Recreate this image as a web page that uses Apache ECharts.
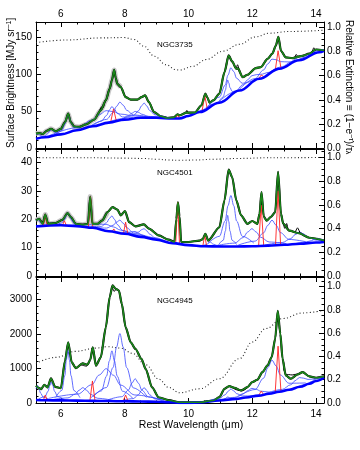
<!DOCTYPE html>
<html><head><meta charset="utf-8">
<script src="https://cdn.jsdelivr.net/npm/echarts@6/dist/echarts.min.js"></script>
<style>html,body{margin:0;padding:0;background:#fff}#c{width:360px;height:450px}</style>
</head><body><div id="c"></div>
<script>
// ---------------- DATA ----------------
const xTicks = [6, 8, 10, 12, 14];
const xRange = [5.22, 14.25];
const galaxyNames = ['NGC3735', 'NGC4501', 'NGC4945'];
const leftTicks = [[0, 50, 100, 150], [0, 10, 20, 30, 40], [0, 1000, 2000, 3000]];
const rightTicks = [0.0, 0.2, 0.4, 0.6, 0.8, 1.0];

// ---- NGC3735 ----
const ngc3735Total = [[5.22,19.5],[5.32,20.2],[5.43,19],[5.57,23.5],[5.69,26],[5.84,22.6],[6.0,26],[6.13,35],[6.23,46.6],[6.31,35],[6.42,29],[6.57,28.6],[6.78,32],[7.04,38.5],[7.25,51],[7.41,64.6],[7.53,80.5],[7.6,92],[7.67,106],[7.72,95],[7.77,87],[7.88,82.6],[8.03,69],[8.19,65.6],[8.4,65.6],[8.53,69],[8.64,71.4],[8.76,62.3],[8.92,48.8],[9.13,43],[9.34,40.7],[9.55,41.6],[9.66,45.7],[9.72,44.3],[9.94,48],[10.2,48],[10.41,58],[10.53,73.7],[10.6,68],[10.66,61.5],[10.78,64.6],[10.97,73.7],[11.13,103],[11.26,125.6],[11.37,117.5],[11.5,107.6],[11.55,108],[11.7,96],[11.85,99.4],[12.11,108.4],[12.27,109.8],[12.48,121],[12.63,128],[12.74,139],[12.82,151],[12.9,132],[13.05,123],[13.26,122],[13.53,124.7],[13.79,128],[14.0,133.7],[14.25,132.3]];
const ngc3735Data = [[[7.2,50],[7.28,56],[7.33,55],[7.38,64],[7.44,67],[7.5,79]],[[9.9,46],[9.95,51],[10.0,47]],[[11.49,108],[11.54,113],[11.6,104]],[[13.33,123],[13.38,127],[13.43,123.5]],[[13.88,131],[13.93,136],[13.98,132]]];
const ngc3735Cont = [[5.22,12.5],[5.5,14.5],[6.0,18.5],[6.5,24],[7.0,29.5],[7.5,34.5],[8.0,38.5],[8.5,41],[9.0,41],[9.5,40],[9.72,40],[10.0,43.5],[10.35,48.8],[10.97,61.5],[11.6,78],[12.22,94],[12.85,107.6],[13.47,119],[14.1,130],[14.25,132]];
const ngc3735Ext = [[5.22,0.874],[6.2,0.896],[7.25,0.913],[7.97,0.916],[8.3,0.9],[8.6,0.845],[8.93,0.761],[9.3,0.69],[9.6,0.65],[9.72,0.646],[10.14,0.677],[10.56,0.734],[11.08,0.803],[11.6,0.86],[12.1,0.921],[12.53,0.952],[13.16,0.966],[14.25,0.977]];
const ngc3735Pah = [
 [[5.22,17.7],[5.27,19.4],[5.31,18.6],[5.36,16.8],[5.45,15.4],[5.63,15.9]],
 [[5.3,13.6],[5.5,16.3],[5.6,19.8],[5.65,22.9],[5.7,25.1],[5.75,23.7],[5.8,21.4],[5.9,19.5],[6.1,20.1]],
 [[5.84,18.7],[6.03,23.7],[6.125,32],[6.17,39.8],[6.22,45.2],[6.27,40.9],[6.315,34],[6.41,27.9],[6.6,26.6]],
 [[5.62,16.5],[6.52,27.6],[6.97,37.7],[7.2,45.1],[7.42,50.7],[7.65,49.3],[7.87,46],[8.32,43.4],[9.22,41.6]],
 [[6.94,30.2],[7.27,36.4],[7.435,44.3],[7.52,51.5],[7.6,56.3],[7.68,52.7],[7.765,47.1],[7.93,42.1],[8.26,41.1]],
 [[7.01,31.1],[7.43,38.8],[7.64,48.1],[7.745,56.5],[7.85,62.3],[7.955,58.1],[8.06,51.3],[8.27,44.9],[8.69,42.5]],
 [[7.49,35],[7.91,39.7],[8.12,43.9],[8.225,47.2],[8.33,49.7],[8.435,48.3],[8.54,45.8],[8.75,42.9],[9.17,41.3]],
 [[7.93,39.1],[8.27,43.9],[8.44,50.7],[8.525,57],[8.61,61],[8.695,57],[8.78,51],[8.95,45],[9.29,41.6]],
 [[10.26,47.6],[10.47,52],[10.575,55.3],[10.68,59.1],[10.785,59.5],[10.89,60.6],[11.1,65.1]],
 [[10.95,62.5],[11.09,69.4],[11.16,78.5],[11.195,86.6],[11.23,92.3],[11.265,88.4],[11.3,82.1],[11.37,76.8],[11.51,77]],
 [[10.61,56],[10.97,69.1],[11.15,85.2],[11.24,99],[11.33,108.9],[11.42,103.7],[11.51,94.6],[11.69,87.9],[12.05,91.9]],
 [[10.91,60.9],[11.45,76.1],[11.72,86.1],[11.855,92.6],[11.99,98.1],[12.125,99.5],[12.26,99.9],[12.53,102.7],[13.07,112.3]],
 [[11.56,78.1],[12.09,94.2],[12.355,105.9],[12.49,114.2],[12.62,120.6],[12.75,119.8],[12.885,117.2],[13.15,116.8],[13.68,123.8]],
 [[12.4,98.2],[12.94,110.3],[13.21,116.7],[13.345,120.7],[13.48,124.2],[13.615,125.6],[13.75,126.4],[14.02,129.6],[14.25,132.4]],
 [[13.34,116.8],[13.69,123.7],[13.865,128],[13.95,130.6],[14.04,133],[14.13,133.6],[14.25,133]]
];
const ngc3735Lines = [
 [[7.56,35],[7.65,53],[7.74,36.4]],
 [[9.6,40],[9.66,45],[9.72,40]],
 [[10.43,50.5],[10.51,71.4],[10.59,53.2]],
 [[12.2,93.6],[12.28,99],[12.36,97]],
 [[12.72,104.8],[12.81,132],[12.9,108.5]]
];

// ---- NGC4501 ----
const ngc4501Total = [[5.22,19.6],[5.32,20.2],[5.43,18.4],[5.51,21.7],[5.6,18.4],[5.84,18.7],[6.05,19.8],[6.21,22.2],[6.31,20.8],[6.47,18.4],[6.68,18.1],[6.85,18.4],[6.92,28],[6.99,18.4],[7.15,18.4],[7.3,19.6],[7.46,22.5],[7.62,24.3],[7.77,23.4],[7.88,21.4],[8.01,22.9],[8.14,19],[8.34,17.5],[8.6,18.2],[8.76,16.7],[9.07,14.3],[9.38,12.8],[9.56,12],[9.62,20],[9.67,26],[9.72,21],[9.77,12],[10.0,12],[10.35,12.5],[10.45,13],[10.53,14.9],[10.62,12.5],[10.97,17.2],[11.13,26.7],[11.26,37.5],[11.37,34.9],[11.5,26.7],[11.65,21.4],[11.85,18.4],[12.0,19.4],[12.16,18.4],[12.23,22],[12.29,29.6],[12.36,21],[12.45,19.5],[12.58,20.8],[12.72,22.5],[12.81,36.7],[12.9,22],[12.97,18.5],[13.16,16],[13.47,15.1],[13.79,13.5],[14.25,12.5]];
const ngc4501Data = [[[12.96,19],[13.02,16.8],[13.08,18.5],[13.12,16.5]],[[13.35,15.5],[13.42,17],[13.5,15.2]]];
const ngc4501Cont = [[5.22,17.5],[6.0,17.9],[6.5,17.6],[7.0,17.0],[7.5,15.8],[8.0,14.9],[8.5,13.8],[9.0,12.8],[9.5,11.6],[10.0,10.9],[10.5,10.5],[11.0,10.4],[11.5,10.4],[12.0,10.5],[12.5,10.7],[13.0,11.0],[13.5,11.4],[14.0,11.8],[14.25,12.0]];
const ngc4501Ext = [[5.22,0.997],[7.0,0.996],[8.0,0.993],[8.6,0.99],[9.0,0.984],[9.4,0.977],[9.72,0.975],[10.2,0.977],[10.8,0.984],[11.5,0.99],[12.5,0.996],[14.25,0.999]];
const ngc4501Pah = [
 [[5.22,19.5],[5.27,20],[5.31,19.6],[5.36,18.8],[5.45,18],[5.63,17.8]],
 [[5.3,17.6],[5.5,17.9],[5.6,18.2],[5.7,18.7],[5.8,18.3],[5.9,18],[6.1,17.9]],
 [[5.84,17.9],[6.03,18.7],[6.125,20.1],[6.17,21.4],[6.22,22.3],[6.27,21.4],[6.315,20],[6.41,18.6],[6.6,17.7]],
 [[5.62,17.8],[6.52,18],[6.97,18.1],[7.2,18.3],[7.42,18.2],[7.65,17.3],[7.87,16.2],[8.32,14.6],[9.22,12.4]],
 [[6.94,17.4],[7.27,17.5],[7.435,18.8],[7.52,20.3],[7.6,21.2],[7.68,20],[7.765,18.2],[7.93,16.1],[8.26,14.6]],
 [[7.01,17.2],[7.43,16.9],[7.64,17.9],[7.745,19],[7.85,19.7],[7.955,18.6],[8.06,17.1],[8.27,15.2],[8.69,13.7]],
 [[7.49,15.9],[7.91,15.4],[8.12,15.4],[8.225,15.6],[8.33,15.7],[8.435,15.1],[8.54,14.5],[8.75,13.6],[9.17,12.5]],
 [[7.93,15.2],[8.27,14.9],[8.44,15.5],[8.525,16.3],[8.61,16.7],[8.695,15.9],[8.78,14.8],[8.95,13.5],[9.29,12.2]],
 [[10.26,10.8],[10.47,10.8],[10.575,11.2],[10.68,12],[10.785,11.2],[10.89,10.8],[11.1,10.5]],
 [[10.95,11.1],[11.09,12.6],[11.16,15.9],[11.195,19.2],[11.23,21.4],[11.265,19.2],[11.3,15.9],[11.37,12.6],[11.51,11.1]],
 [[10.61,11.5],[10.97,14],[11.15,19.4],[11.24,24.8],[11.33,28.4],[11.42,24.8],[11.51,19.4],[11.69,14],[12.05,11.6]],
 [[10.91,10.8],[11.45,11.6],[11.72,13.6],[11.855,15.5],[11.99,16.7],[12.125,15.5],[12.26,13.7],[12.53,12],[13.07,11.4]],
 [[11.56,10.9],[12.09,12.3],[12.355,15.2],[12.49,17.9],[12.62,19.7],[12.75,17.9],[12.885,15.3],[13.15,12.9],[13.68,12.1]],
 [[12.4,10.9],[12.94,11.8],[13.21,13.2],[13.345,14.6],[13.48,15.5],[13.615,14.8],[13.75,13.6],[14.02,12.6],[14.25,12.3]],
 [[13.34,11.4],[13.69,12],[13.865,12.5],[13.95,12.9],[14.04,13.3],[14.13,13],[14.25,12.6]]
];
const ngc4501Lines = [
 [[5.45,17.6],[5.51,21.7],[5.57,17.7]],
 [[6.05,17.9],[6.11,19.5],[6.17,17.9]],
 [[6.86,17.1],[6.93,28],[7.0,17]],
 [[7.6,15.6],[7.66,16.6],[7.72,15.5]],
 [[7.96,14.9],[8.03,19],[8.1,14.8]],
 [[9.6,11.4],[9.66,26],[9.72,11.2]],
 [[10.45,10.5],[10.51,14.5],[10.57,10.5]],
 [[12.2,10.6],[12.28,25],[12.36,10.6]],
 [[12.73,10.9],[12.81,30],[12.89,10.9]]
];

// ---- NGC4945 ----
const ngc4945Total = [[5.22,500],[5.3,440],[5.38,403],[5.48,530],[5.58,452],[5.69,713],[5.82,470],[6.0,432],[6.13,1228],[6.23,1762],[6.34,1180],[6.47,1014],[6.68,1150],[6.83,1112],[6.92,1250],[7.0,1617],[7.1,1083],[7.25,1325],[7.41,2200],[7.53,3073],[7.62,3414],[7.72,3316],[7.82,3268],[7.91,2878],[8.03,2200],[8.19,1762],[8.34,1568],[8.53,1276],[8.66,985],[8.86,452],[9.07,160],[9.38,82],[9.72,20],[10.35,20],[10.78,73],[10.97,170],[11.13,413],[11.28,490],[11.44,443],[11.65,364],[11.85,461],[12.0,606],[12.16,675],[12.32,897],[12.48,1092],[12.61,1334],[12.72,1870],[12.8,2675],[12.88,2016],[12.95,1288],[13.05,801],[13.21,705],[13.42,830],[13.58,897],[13.79,772],[14.0,734],[14.25,772]];
const ngc4945Data = [[[7.6,3390],[7.67,3240],[7.74,3320]],[[11.35,470],[11.45,405],[11.55,372],[11.65,352],[11.75,378],[11.85,440]],[[12.98,1000],[13.05,840],[13.15,825],[13.25,815],[13.35,835]],[[6.6,1110],[6.7,1090],[6.8,1070],[6.88,1150]]];
const ngc4945Cont = [[5.22,85],[5.5,80],[6.0,75],[6.5,68],[7.0,62],[7.5,56],[8.0,50],[8.5,43],[9.0,35],[9.4,22],[9.72,5],[10.0,5],[10.35,15],[10.97,73],[11.5,120],[11.8,160],[12.2,215],[12.53,268],[12.85,325],[13.16,384],[13.5,470],[13.79,559],[14.0,640],[14.25,734]];
const ngc4945Ext = [[5.22,0.34],[5.84,0.392],[6.47,0.444],[7.1,0.472],[7.46,0.484],[7.88,0.472],[8.24,0.427],[8.66,0.329],[9.07,0.205],[9.38,0.134],[9.72,0.088],[10.35,0.122],[10.97,0.208],[11.6,0.381],[12.0,0.524],[12.43,0.64],[12.95,0.726],[13.58,0.774],[14.25,0.797]];
const ngc4945Pah = [
 [[5.22,413],[5.27,504],[5.31,436],[5.36,292],[5.45,165],[5.63,104]],
 [[5.3,115],[5.5,186],[5.6,344],[5.65,503],[5.7,608],[5.75,502],[5.8,342],[5.9,182],[6.1,105]],
 [[5.84,164],[6.03,367],[6.125,803],[6.17,1241],[6.22,1532],[6.27,1239],[6.315,801],[6.41,361],[6.6,154]],
 [[5.75,100],[6.22,148],[6.455,259],[6.57,371],[6.69,446],[6.81,368],[6.925,253],[7.16,136],[7.63,77]],
 [[5.62,135],[6.52,256],[6.97,532],[7.2,812],[7.42,997],[7.65,806],[7.87,522],[8.32,233],[9.22,84]],
 [[6.94,150],[7.27,351],[7.435,787],[7.52,1224],[7.6,1515],[7.68,1222],[7.765,783],[7.93,343],[8.26,134]],
 [[7.01,180],[7.43,450],[7.64,1037],[7.745,1625],[7.85,2017],[7.955,1623],[8.06,1032],[8.27,439],[8.69,158]],
 [[7.49,96],[7.91,183],[8.12,378],[8.225,575],[8.33,705],[8.435,572],[8.54,372],[8.75,171],[9.17,69]],
 [[7.93,75],[8.27,127],[8.44,246],[8.525,367],[8.61,446],[8.695,364],[8.78,241],[8.95,117],[9.29,50]],
 [[10.95,76],[11.09,99],[11.16,129],[11.195,157],[11.23,176],[11.265,163],[11.3,142],[11.37,124.5],[11.51,125.8]],
 [[10.61,57],[10.97,133],[11.15,238],[11.24,337],[11.33,405],[11.42,353],[11.51,271],[11.69,205],[12.05,212]],
 [[10.91,81],[11.45,164],[11.72,269],[11.855,360],[11.99,426],[12.125,397],[12.26,345],[12.53,316],[13.07,381]],
 [[11.56,185],[12.09,392],[12.355,720],[12.49,1030],[12.62,1244],[12.75,1074],[12.885,812],[13.15,574],[13.68,582]],
 [[12.4,264],[12.94,395],[13.21,531],[13.345,648],[13.48,738],[13.615,721],[13.75,684],[14.02,702],[14.25,760]],
 [[13.34,432],[13.69,544],[13.865,626],[13.95,676],[14.04,734],[14.13,754],[14.25,767]]
];
const ngc4945Lines = [
 [[5.45,81],[5.51,230],[5.57,79]],
 [[6.05,74],[6.11,120],[6.17,73]],
 [[6.91,63],[6.99,640],[7.07,61]],
 [[7.95,51],[8.03,230],[8.11,48]],
 [[12.2,215],[12.28,345],[12.36,241]],
 [[12.72,302],[12.81,1650],[12.9,334]]
];

// ---------------- LAYOUT / STYLE ----------------
const FONT = 'Liberation Sans, Arial, Helvetica, sans-serif';
const panels = [
  {name: galaxyNames[0], total: ngc3735Total, data: ngc3735Data, cont: ngc3735Cont, ext: ngc3735Ext, pah: ngc3735Pah, lines: ngc3735Lines, fuzzTo: 7.95, top: 22, height: 126, yMax: 171, yMinor: 5, rMax: 1.045, labelY: 45},
  {name: galaxyNames[1], total: ngc4501Total, data: ngc4501Data, cont: ngc4501Cont, ext: ngc4501Ext, pah: ngc4501Pah, lines: ngc4501Lines, fuzzTo: 7.5, top: 149, height: 127, yMax: 44.8, yMinor: 5, rMax: 1.07, labelY: 173},
  {name: galaxyNames[2], total: ngc4945Total, data: ngc4945Data, cont: ngc4945Cont, ext: ngc4945Ext, pah: ngc4945Pah, lines: ngc4945Lines, fuzzTo: 0, top: 277, height: 126, yMax: 3660, yMinor: 5, rMax: 1.083, labelY: 300.5}
];

const grids = [], xAxes = [], yAxes = [], series = [], graphics = [];
const axisCommon = {
  axisLine: {show: true, onZero: false, lineStyle: {color: '#000', width: 1}},
  axisTick: {show: true, inside: true, length: 5, lineStyle: {color: '#000', width: 1}},
  splitLine: {show: false},
};
function lab(show, extra) {
  return Object.assign({show: show, color: '#000', fontSize: 10, fontFamily: FONT, showMinLabel: false, showMaxLabel: false}, extra || {});
}

panels.forEach((p, i) => {
  grids.push({left: 36, right: 36, top: p.top, height: p.height, containLabel: false});
  ['bottom', 'top'].forEach(pos => {
    xAxes.push(Object.assign({}, axisCommon, {
      type: 'value', gridIndex: i, position: pos, min: xRange[0], max: xRange[1],
      minInterval: xTicks[1] - xTicks[0], maxInterval: xTicks[1] - xTicks[0],
      minorTick: {show: true, splitNumber: 4, length: 2.5, lineStyle: {color: '#000', width: 1}},
      axisLabel: lab((pos === 'bottom' && i === 2) || (pos === 'top' && i === 0), {margin: pos === 'top' ? 3 : 6, formatter: v => String(v)})
    }));
  });
  const lt = leftTicks[i];
  yAxes.push(Object.assign({}, axisCommon, {
    type: 'value', gridIndex: i, position: 'left', min: 0, max: p.yMax,
    minInterval: lt[1] - lt[0], maxInterval: lt[1] - lt[0],
    minorTick: {show: true, splitNumber: p.yMinor, length: 2.5, lineStyle: {color: '#000', width: 1}},
    axisLabel: lab(true, {showMinLabel: true, margin: 4, formatter: v => String(Math.round(v))})
  }));
  yAxes.push(Object.assign({}, axisCommon, {
    type: 'value', gridIndex: i, position: 'right', min: 0, max: p.rMax,
    minInterval: rightTicks[1] - rightTicks[0], maxInterval: rightTicks[1] - rightTicks[0],
    minorTick: {show: true, splitNumber: 4, length: 2.5, lineStyle: {color: '#000', width: 1}},
    axisLabel: lab(true, {showMinLabel: true, margin: 3, formatter: v => v.toFixed(1)})
  }));
  const xb = i * 2, yl = i * 2, yr = i * 2 + 1;
  const base = {type: 'line', xAxisIndex: xb, yAxisIndex: yl, symbol: 'none', showSymbol: false, silent: true, animation: false, clip: true};
  if (p.fuzzTo) {
    series.push(Object.assign({}, base, {data: p.total.filter(d => d[0] <= p.fuzzTo), smooth: 0.25, smoothMonotone: 'x',
      lineStyle: {color: '#c8c8c8', width: 5}, z: 1}));
  }
  series.push(Object.assign({}, base, {yAxisIndex: yr, data: p.ext, smooth: 0.4, smoothMonotone: 'x',
    lineStyle: {color: '#222', width: 1.1, type: [1, 2.4]}, z: 2}));
  series.push(Object.assign({}, base, {data: p.total, smooth: 0.25, smoothMonotone: 'x', lineStyle: {color: '#000', width: 2.2}, z: 3}));
  p.data.forEach(seg => series.push(Object.assign({}, base, {data: seg, smooth: 0.2, lineStyle: {color: '#000', width: 1}, z: 6})));
  p.pah.forEach(c => series.push(Object.assign({}, base, {data: c, smooth: 0.35, smoothMonotone: 'x',
    lineStyle: {color: '#3a48ff', width: 0.8}, z: 4})));
  p.lines.forEach(c => series.push(Object.assign({}, base, {data: c, lineStyle: {color: '#ff2020', width: 0.9}, z: 4})));
  series.push(Object.assign({}, base, {data: p.cont, smooth: 0.4, smoothMonotone: 'x', lineStyle: {color: '#0000ff', width: 2.6}, z: 5}));
  series.push(Object.assign({}, base, {data: p.total, smooth: 0.25, smoothMonotone: 'x', lineStyle: {color: '#1a881a', width: 1.6}, z: 7}));
  graphics.push({type: 'text', x: 157, y: p.labelY, silent: true,
    style: {text: p.name, fontSize: 8, fontFamily: FONT, fill: '#000', align: 'left', verticalAlign: 'middle'}});
});

graphics.push({type: 'text', x: 191, y: 425, silent: true,
  style: {text: 'Rest Wavelength (\u03bcm)', fontSize: 10.5, fontFamily: FONT, fill: '#000', align: 'center', verticalAlign: 'middle'}});
graphics.push({type: 'text', x: 11, y: 148, rotation: Math.PI / 2, silent: true,
  style: {text: '{a|Surface Brightness [MJy sr}{s|\u22121}{a|]}', fontFamily: FONT, fill: '#000', align: 'left', verticalAlign: 'middle',
    rich: {a: {fontSize: 10, fontFamily: FONT, verticalAlign: 'bottom'}, s: {fontSize: 7, fontFamily: FONT, verticalAlign: 'top'}}}});
graphics.push({type: 'text', x: 349, y: 20, rotation: -Math.PI / 2, silent: true,
  style: {text: '{a|Relative Extinction \u2261 (1\u2212e}{s|\u2212\u03c4}{a|)/\u03c4}{b|\u03bb}', fontFamily: FONT, fill: '#000', align: 'left', verticalAlign: 'middle',
    rich: {a: {fontSize: 10, fontFamily: FONT, verticalAlign: 'bottom'}, s: {fontSize: 7, fontFamily: FONT, verticalAlign: 'top'}, b: {fontSize: 7, fontFamily: FONT, verticalAlign: 'bottom'}}}});

const chart = echarts.init(document.getElementById('c'), null, {renderer: 'canvas'});
chart.setOption({backgroundColor: '#fff', animation: false, grid: grids, xAxis: xAxes, yAxis: yAxes, series: series, graphic: graphics});
</script></body></html>
